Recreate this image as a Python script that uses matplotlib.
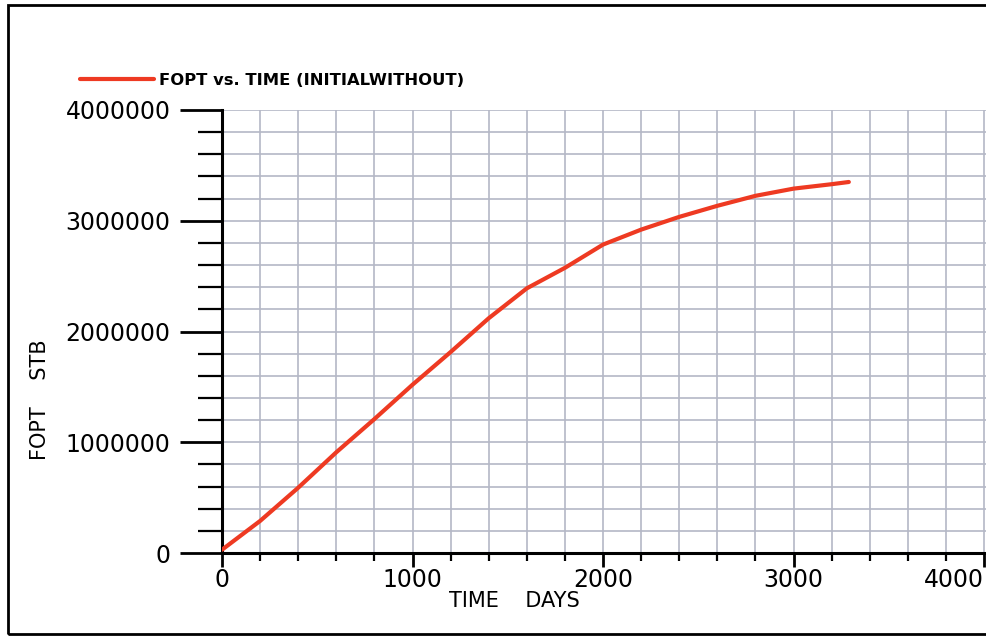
import matplotlib
matplotlib.use("Agg")
import matplotlib.pyplot as plt
from matplotlib.patches import Rectangle
from matplotlib.ticker import MultipleLocator, FuncFormatter

# FOPT vs TIME
time_days = [0, 200, 400, 600, 800, 1000, 1200, 1400, 1600, 1800,
             2000, 2200, 2400, 2600, 2800, 3000, 3200, 3290]
fopt_stb = [30000, 290000, 590000, 910000, 1210000, 1520000, 1815000, 2120000,
            2390000, 2575000, 2785000, 2920000, 3035000, 3135000, 3225000,
            3290000, 3330000, 3350000]

x_ticks = [0, 1000, 2000, 3000, 4000]
y_ticks = [0, 1000000, 2000000, 3000000, 4000000]
series_label = "FOPT vs. TIME (INITIALWITHOUT)"

plt.rcParams['font.family'] = ['DejaVu Sans']

fig = plt.figure(figsize=(9.86, 6.38), dpi=100)
ax = fig.add_axes([0.2252, 0.1332, 0.7748, 0.6944])

ax.plot(time_days, fopt_stb, color="#ee3a22", linewidth=3, label=series_label,
        solid_capstyle="round", zorder=3)

ax.set_xlim(0, 4010)
ax.set_ylim(0, 4000000)
ax.set_xticks(x_ticks)
ax.set_yticks(y_ticks)
ax.xaxis.set_minor_locator(MultipleLocator(200))
ax.yaxis.set_minor_locator(MultipleLocator(200000))
ax.yaxis.set_major_formatter(FuncFormatter(lambda v, p: "%d" % v))

ax.grid(which="both", color="#b4b8c6", linewidth=1.2, zorder=0)
ax.set_axisbelow(True)

for s in ["top", "right"]:
    ax.spines[s].set_visible(False)
for s in ["left", "bottom"]:
    ax.spines[s].set_linewidth(2.2)

ax.tick_params(axis="y", which="major", direction="out", length=30, width=2,
               pad=7, labelsize=17)
ax.tick_params(axis="y", which="minor", direction="out", length=17, width=1.6)
ax.tick_params(axis="x", which="major", direction="out", length=10, width=2,
               pad=1, labelsize=17)
ax.tick_params(axis="x", which="minor", direction="out", length=6, width=1.6)
ax.get_xticklabels()[-1].set_horizontalalignment("right")

ax.set_xlabel("TIME    DAYS", fontsize=15)
ax.xaxis.set_label_coords(0.382, -0.085)
ax.set_ylabel("FOPT    STB", fontsize=15)
ax.yaxis.set_label_coords(-0.225, 0.345)

ax.legend(loc="center left", bbox_to_anchor=(0.081, 0.8746),
          bbox_transform=fig.transFigure, frameon=False,
          handlelength=4.5, handletextpad=0.35, borderpad=0, borderaxespad=0,
          prop={"weight": "bold", "size": 11.8})

# outer border of the scanned page (right side runs off the image)
fig.add_artist(Rectangle((0.008, 0.006), 1.2, 0.986, transform=fig.transFigure,
                         fill=False, edgecolor="black", linewidth=2))

fig.savefig("out.png", dpi=100)
